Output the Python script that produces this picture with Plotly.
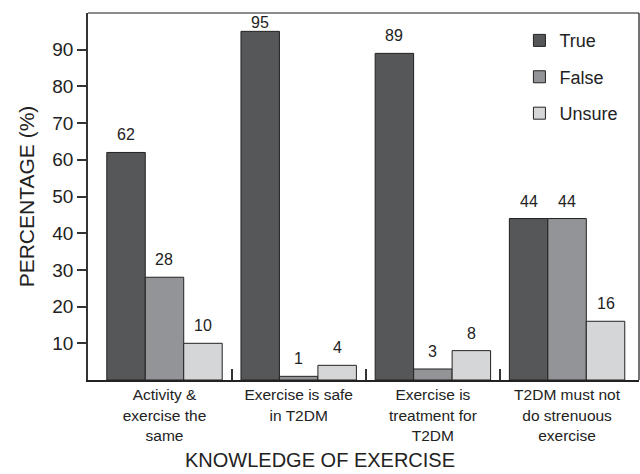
import plotly.graph_objects as go

# Survey answers per knowledge statement (percent of respondents)
categories = [
    "Activity &<br>exercise the<br>same",
    "Exercise is safe<br>in T2DM",
    "Exercise is<br>treatment for<br>T2DM",
    "T2DM must not<br>do strenuous<br>exercise",
]
series_names = ["True", "False", "Unsure"]
true_vals = [62, 95, 89, 44]
false_vals = [28, 1, 3, 44]
unsure_vals = [10, 4, 8, 16]
y_ticks = [10, 20, 30, 40, 50, 60, 70, 80, 90]

series_values = [true_vals, false_vals, unsure_vals]
colors = ["#565759", "#939497", "#d5d6d8"]

BARGAP = 0.14
n_series = len(series_names)
bar_w = (1 - BARGAP) / n_series
x_pos = list(range(len(categories)))
Y_MAX = 100

fig = go.Figure()
for name, vals, col in zip(series_names, series_values, colors):
    fig.add_trace(go.Bar(
        x=x_pos, y=vals, name=name, legendgroup=name,
        marker=dict(color=col, line=dict(color="#222222", width=1)),
        hoverinfo="skip",
    ))

# Value labels above each bar; tall bars get pulled in under the frame
plot_h = 474 - 13 - 94
px_per_unit = plot_h / Y_MAX
annotations = []
for j, vals in enumerate(series_values):
    for i, v in enumerate(vals):
        room = (Y_MAX - v) * px_per_unit
        shift = max(-2, min(7, room - 20))
        annotations.append(dict(
            x=i + (j - (n_series - 1) / 2) * bar_w, y=v, xref="x", yref="y",
            text=str(v), showarrow=False, yanchor="bottom", yshift=shift,
            font=dict(size=16, color="#222222"),
        ))

# x-axis title, centred on the page rather than the plot area
annotations.append(dict(
    text="KNOWLEDGE OF EXERCISE", xref="paper", yref="paper",
    x=0.421, y=0, yshift=-80, xanchor="center", yanchor="middle",
    showarrow=False, font=dict(size=20, color="#222222"),
))

fig.update_layout(
    width=640, height=474,
    margin=dict(l=88, r=1, t=13, b=94),
    paper_bgcolor="white", plot_bgcolor="white",
    font=dict(family="Liberation Sans, Arial, sans-serif", color="#222222"),
    barmode="group", bargap=BARGAP, bargroupgap=0,
    annotations=annotations,
    legend=dict(
        x=0.783, y=0.975, xanchor="left", yanchor="top",
        font=dict(size=18, color="#222222"),
        traceorder="grouped", tracegroupgap=10,
        bgcolor="rgba(0,0,0,0)",
    ),
    xaxis=dict(
        range=[-0.570, 3.536],
        tickmode="array", tickvals=x_pos, ticktext=categories,
        ticks="", tickfont=dict(size=15.5, color="#222222"),
        showline=True, linecolor="#222222", linewidth=1.5,
        showgrid=False, zeroline=False,
        minor=dict(tickmode="array", tickvals=[0.5, 1.5, 2.5],
                   ticks="inside", ticklen=11, tickwidth=1.5,
                   tickcolor="#333333", showgrid=False),
    ),
    yaxis=dict(
        range=[0, Y_MAX],
        tickmode="array", tickvals=y_ticks,
        ticks="outside", ticklen=9, tickwidth=1.5, tickcolor="#333333",
        tickfont=dict(size=19, color="#222222"),
        showline=True, linecolor="#333333", linewidth=1.5,
        showgrid=False, zeroline=False,
        title=dict(text="PERCENTAGE (%)",
                   font=dict(size=21, color="#222222"), standoff=12),
    ),
    shapes=[
        dict(type="line", xref="paper", yref="paper", x0=0, x1=1, y0=1, y1=1,
             line=dict(color="#666666", width=1.5)),
        dict(type="line", xref="paper", yref="paper", x0=1, x1=1, y0=0, y1=1,
             line=dict(color="#444444", width=1.5)),
    ],
)

fig.write_html("out.html")
